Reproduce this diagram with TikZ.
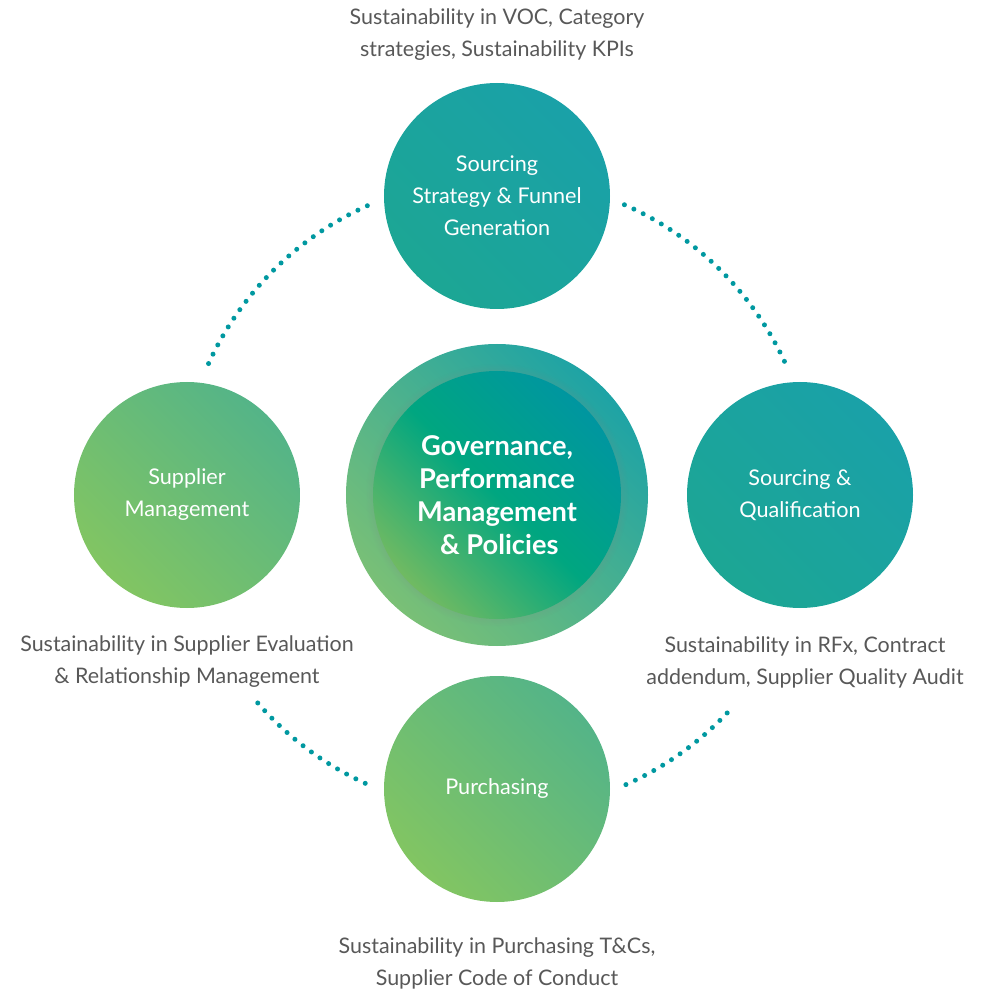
\documentclass[tikz,border=0pt]{standalone}
\usepackage{fontspec}
\setmainfont{Lato}
\usetikzlibrary{shadows}

\definecolor{tealLo}{RGB}{28,166,148}
\definecolor{tealHi}{RGB}{26,161,168}
\definecolor{greenLo}{RGB}{130,197,98}
\definecolor{greenHi}{RGB}{84,180,136}
\definecolor{hubLo}{RGB}{122,192,118}
\definecolor{hubHi}{RGB}{30,163,165}
\definecolor{coreLo}{RGB}{112,186,98}
\definecolor{coreMid}{RGB}{0,166,128}
\definecolor{coreHi}{RGB}{0,150,160}
\definecolor{dotcol}{RGB}{0,152,160}
\definecolor{labelgray}{RGB}{88,88,88}

\tikzstyle{phase}=[circle,
    minimum size=226\px,
    inner sep=0pt,
    align=center,
    text=white,
    font=\fontsize{12.3}{18.2}\selectfont]
\tikzstyle{tealphase}=[phase, left color=tealLo, right color=tealHi, shading angle=135]
\tikzstyle{greenphase}=[phase, left color=greenLo, right color=greenHi, shading angle=135]
\tikzstyle{note}=[align=center,
    text=labelgray,
    font=\fontsize{12.2}{18.2}\selectfont]
\tikzstyle{dotarc}=[draw=dotcol,
    line width=5\px,
    line cap=round,
    dash pattern=on 0pt off 10.4\px]

\newlength{\px}
\setlength{\px}{0.02cm}

\begin{document}
\begin{tikzpicture}[x=0.02cm, y=0.02cm]
    \useasboundingbox (-497,-495) rectangle (486,495);

    % centre
    \node (hub) [circle, minimum size=302\px, inner sep=0pt,
        left color=hubLo, right color=hubHi, shading angle=135] at (0,0) {};
    \node (core) [circle, minimum size=248\px, inner sep=0pt,
        left color=coreLo, right color=coreHi, middle color=coreMid, shading angle=135,
        circular drop shadow={shadow xshift=0pt, shadow yshift=0pt,
            shadow scale=1.06, opacity=0.35},
        align=center, text=white,
        font=\fontsize{15.5}{18.8}\selectfont\bfseries] at (hub.center)
        {Governance,\\Performance\\Management\\\,\& Policies};

    % phases
    \node (sourcing) [tealphase] at (0,299) {Sourcing\\Strategy \& Funnel\\Generation};
    \node (qualify) [tealphase] at (303,0) {Sourcing \&\\Qualification};
    \node (purchase) [greenphase] at (0,-294) {Purchasing};
    \node (supplier) [greenphase] at (-310,0) {Supplier\\Management};

    % notes
    \node (sourcingnote) [note] at (0,460)
        {Sustainability in VOC, Category\\strategies, Sustainability KPIs};
    \node (qualifynote) [note] at (308,-167)
        {Sustainability in RFx, Contract\\addendum, Supplier Quality Audit};
    \node (purchasenote) [note] at (0,-468)
        {Sustainability in Purchasing T\&Cs,\\Supplier Code of Conduct};
    \node (suppliernote) [note] at (-310,-167)
        {Sustainability in Supplier Evaluation\\\& Relationship Management};

    % dotted ring
    \draw [dotarc] ([shift={(155.5:317\px)}]hub.center) arc (155.5:113.9:317\px);
    \draw [dotarc] ([shift={(66.3:317\px)}]hub.center) arc (66.3:24.9:317\px);
    \draw [dotarc] ([shift={(294:317\px)}]hub.center) arc (294:318:317\px);
    \draw [dotarc] ([shift={(221:317\px)}]hub.center) arc (221:245.5:317\px);
\end{tikzpicture}
\end{document}
